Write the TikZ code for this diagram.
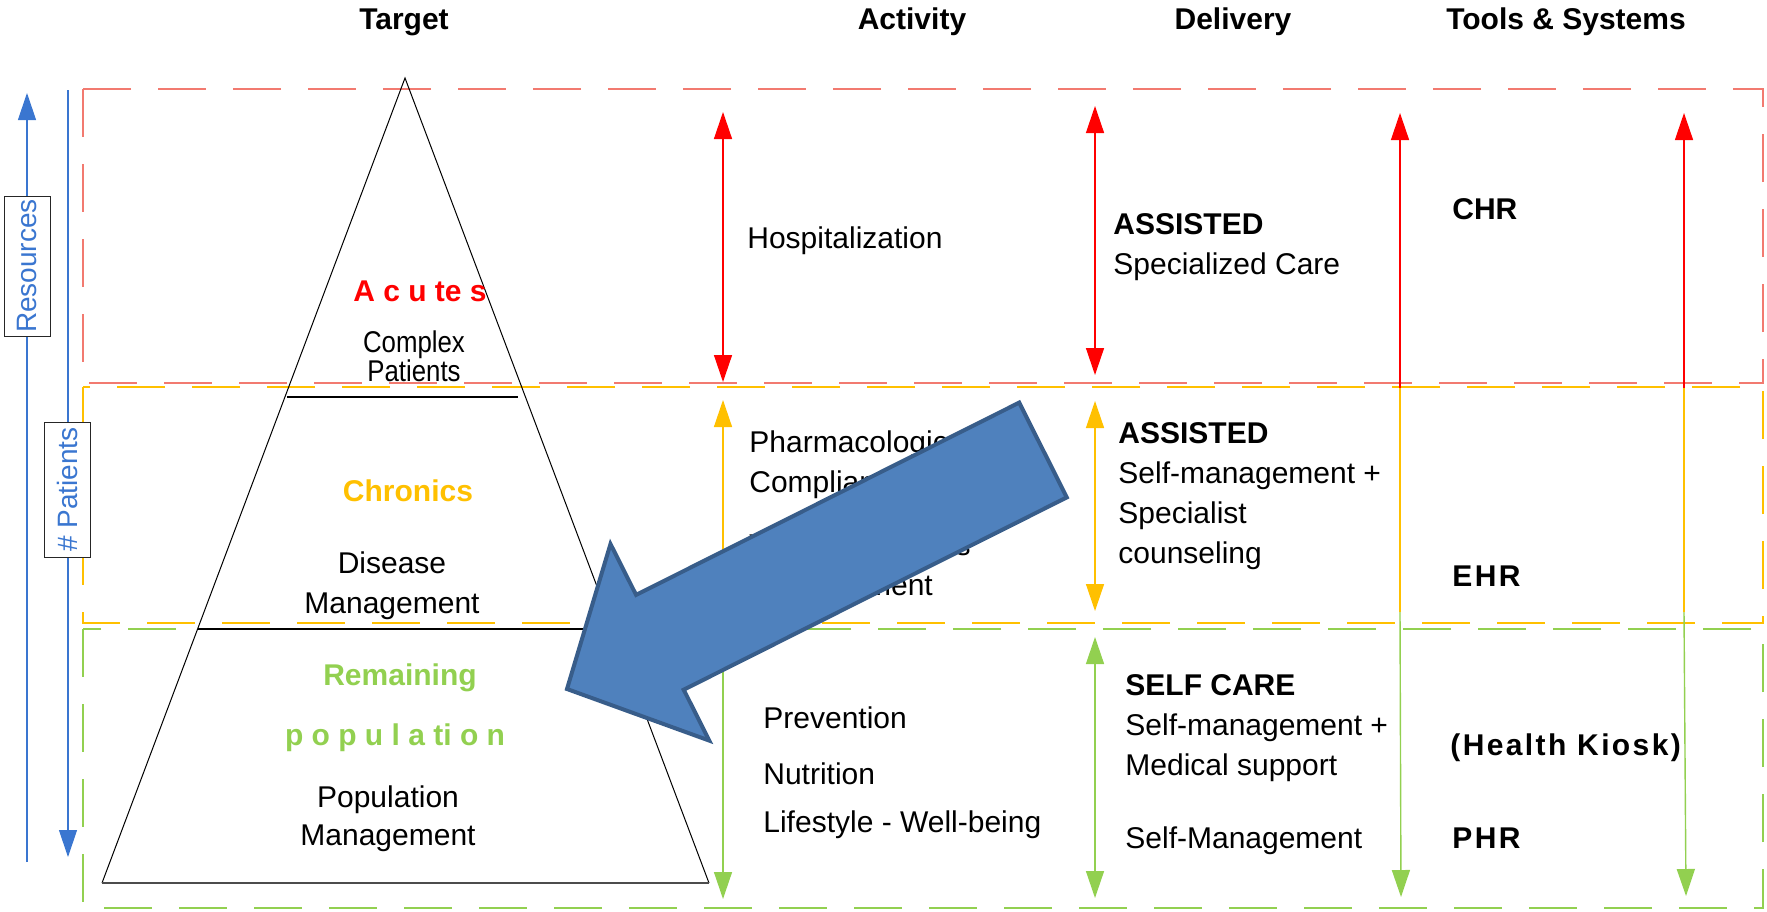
\documentclass[tikz,border=0pt]{standalone}
\usepackage{fontspec}
\setmainfont{Liberation Sans}
\usetikzlibrary{arrows.meta}

\definecolor{bandred}{RGB}{242,122,112}
\definecolor{acutered}{RGB}{255,0,0}
\definecolor{chronyellow}{RGB}{255,192,0}
\definecolor{popgreen}{RGB}{146,208,80}
\definecolor{axisblue}{RGB}{58,118,208}
\definecolor{bigblue}{RGB}{79,129,189}
\definecolor{bigblueedge}{RGB}{56,93,138}

\tikzset{
	band/.style={line width=0.8pt, dash pattern=on 24pt off 13.5pt},
	colarrow/.style={line width=0.7pt},
	axisline/.style={axisblue, line width=0.6pt},
	plain/.style={font=\fontsize{15}{20}\selectfont, inner sep=0pt, align=left},
	bold/.style={plain, font=\bfseries\fontsize{15}{20}\selectfont},
	axisbox/.style={draw=black!85, fill=white, rotate=90, text=axisblue, font=\fontsize{14}{16}\selectfont, inner sep=0pt, minimum height=23pt},
	bigarrow/.style={fill=bigblue, draw=bigblueedge, line width=2pt, line join=miter}
}

\begin{document}
\begin{tikzpicture}[x=0.5pt, y=-0.5pt, >={Triangle[length=13.5pt,width=9pt]}]

	\useasboundingbox (0,0) rectangle (1767,911);

	\draw[band, bandred] (83,89) rectangle (1763,383);
	\draw[band, chronyellow] (83,387) rectangle (1763,623);
	\draw[band, popgreen] (83,629) rectangle (1763,908);

	\node[bold] (hTarget) at (404,22) {Target};
	\node[bold] (hActivity) at (912,22) {Activity};
	\node[bold] (hDelivery) at (1233,22) {Delivery};
	\node[bold] (hTools) at (1566,22) {Tools \& Systems};

	% pyramid
	\coordinate (apex) at (405,78);
	\coordinate (baseL) at (102,883);
	\coordinate (baseR) at (709,883);
	\coordinate (cutAL) at (287,397);
	\coordinate (cutAR) at (518,397);
	\coordinate (cutBL) at (198,629);
	\coordinate (cutBR) at (600,629);
	\draw[line width=0.5pt] (baseL) -- (apex) -- (baseR);
	\draw[line width=0.9pt, black!70] (baseL) -- (baseR);
	\draw[line width=0.6pt] (cutAL) -- (cutAR);
	\draw[line width=0.6pt] (cutBL) -- (cutBR);

	\node[bold, text=acutered] (acutes) at (420,291) {A c u te s};
	\node[inner sep=0pt, align=center, font=\fontsize{15}{14.5}\selectfont] (complex) at (414,356) {\scalebox{0.86}[1]{Complex}\\\scalebox{0.86}[1]{Patients}};
	\node[bold, text=chronyellow] (chronics) at (408,491) {Chronics};
	\node[plain, align=center] (disease) at (392,586) {Disease\\Management};
	\node[bold, text=popgreen] (remaining) at (400,678) {Remaining};
	\node[bold, text=popgreen] (population) at (395,738) {p o p u l a ti o n};
	\node[plain, align=center, font=\fontsize{15}{19}\selectfont] (popmgmt) at (388,819) {Population\\Management};

	% activity
	\node[plain, anchor=west] (hosp) at (747,241) {Hospitalization};
	\node[plain, anchor=west] (pharma) at (749,465) {Pharmacological\\Compliance};
	\node[plain, anchor=west] (vital) at (749,565) {Vital Parameters\\Measurement};
	\node[plain, anchor=west] (prev) at (763,718) {Prevention};
	\node[plain, anchor=west] (nutr) at (763,774) {Nutrition};
	\node[plain, anchor=west] (life) at (763,825) {Lifestyle - Well-being};

	% delivery
	\node[plain, anchor=west] (delR) at (1113,247) {\textbf{ASSISTED}\\Specialized Care};
	\node[plain, anchor=west] (delY) at (1118,496) {\textbf{ASSISTED}\\Self-management +\\Specialist\\counseling};
	\node[plain, anchor=west] (delG) at (1125,728) {\textbf{SELF CARE}\\Self-management +\\Medical support};
	\node[plain, anchor=west] (selfm) at (1125,841) {Self-Management};

	% tools
	\node[bold, anchor=west] (chr) at (1452,209) {CHR};
	\node[bold, anchor=west] (ehr) at (1452,576) {\addfontfeature{LetterSpace=8}EHR};
	\node[bold, anchor=west] (kiosk) at (1450,748) {\addfontfeature{LetterSpace=8}(Health Kiosk)};
	\node[bold, anchor=west] (phr) at (1452,838) {\addfontfeature{LetterSpace=8}PHR};

	\coordinate (actRtop) at (723,112);
	\coordinate (actRbot) at (723,382);
	\coordinate (actYtop) at (723,400);
	\coordinate (actYbot) at (723,610);
	\coordinate (actGtop) at (723,638);
	\coordinate (actGbot) at (723,899);
	\draw[colarrow, acutered, <->] (actRtop) -- (actRbot);
	\draw[colarrow, chronyellow, <->] (actYtop) -- (actYbot);
	\draw[colarrow, popgreen, <->] (actGtop) -- (actGbot);

	\coordinate (delRtop) at (1095,106);
	\coordinate (delRbot) at (1095,375);
	\coordinate (delYtop) at (1095,401);
	\coordinate (delYbot) at (1095,611);
	\coordinate (delGtop) at (1095,637);
	\coordinate (delGbot) at (1095,898);
	\draw[colarrow, acutered, <->] (delRtop) -- (delRbot);
	\draw[colarrow, chronyellow, <->] (delYtop) -- (delYbot);
	\draw[colarrow, popgreen, <->] (delGtop) -- (delGbot);

	\coordinate (toolAtop) at (1400,113);
	\coordinate (toolAred) at (1400,388);
	\coordinate (toolAyel) at (1400,612);
	\coordinate (toolAbot) at (1401,897);
	\draw[colarrow, acutered, <-] (toolAtop) -- (toolAred);
	\draw[colarrow, chronyellow] (toolAred) -- (toolAyel);
	\draw[colarrow, popgreen, ->] (toolAyel) -- (toolAbot);

	\coordinate (toolBtop) at (1684,113);
	\coordinate (toolBred) at (1684,388);
	\coordinate (toolByel) at (1684,612);
	\coordinate (toolBbot) at (1686,896);
	\draw[colarrow, acutered, <-] (toolBtop) -- (toolBred);
	\draw[colarrow, chronyellow] (toolBred) -- (toolByel);
	\draw[colarrow, popgreen, ->] (toolByel) -- (toolBbot);

	% axes
	\coordinate (resTop) at (27,93);
	\coordinate (resBot) at (27,862);
	\coordinate (patTop) at (68,90);
	\coordinate (patBot) at (68,857);
	\draw[axisline, ->] (resBot) -- (resTop);
	\draw[axisline, ->] (patTop) -- (patBot);
	\node[axisbox, minimum width=70pt] (resBox) at (27,266) {Resources};
	\node[axisbox, minimum width=67.5pt] (patBox) at (67,489.5) {\# Patients};

	% big arrow
	\coordinate (bTip) at (567,689);
	\coordinate (bHeadU) at (610.5,544);
	\coordinate (bNotchU) at (636.1,594.9);
	\coordinate (bTailU) at (1019.2,402.6);
	\coordinate (bTailL) at (1066.8,497.4);
	\coordinate (bNotchL) at (683.7,689.7);
	\coordinate (bHeadL) at (709.3,740.6);
	\draw[bigarrow] (bTip) -- (bHeadU) -- (bNotchU) -- (bTailU) -- (bTailL) -- (bNotchL) -- (bHeadL) -- cycle;

\end{tikzpicture}
\end{document}
